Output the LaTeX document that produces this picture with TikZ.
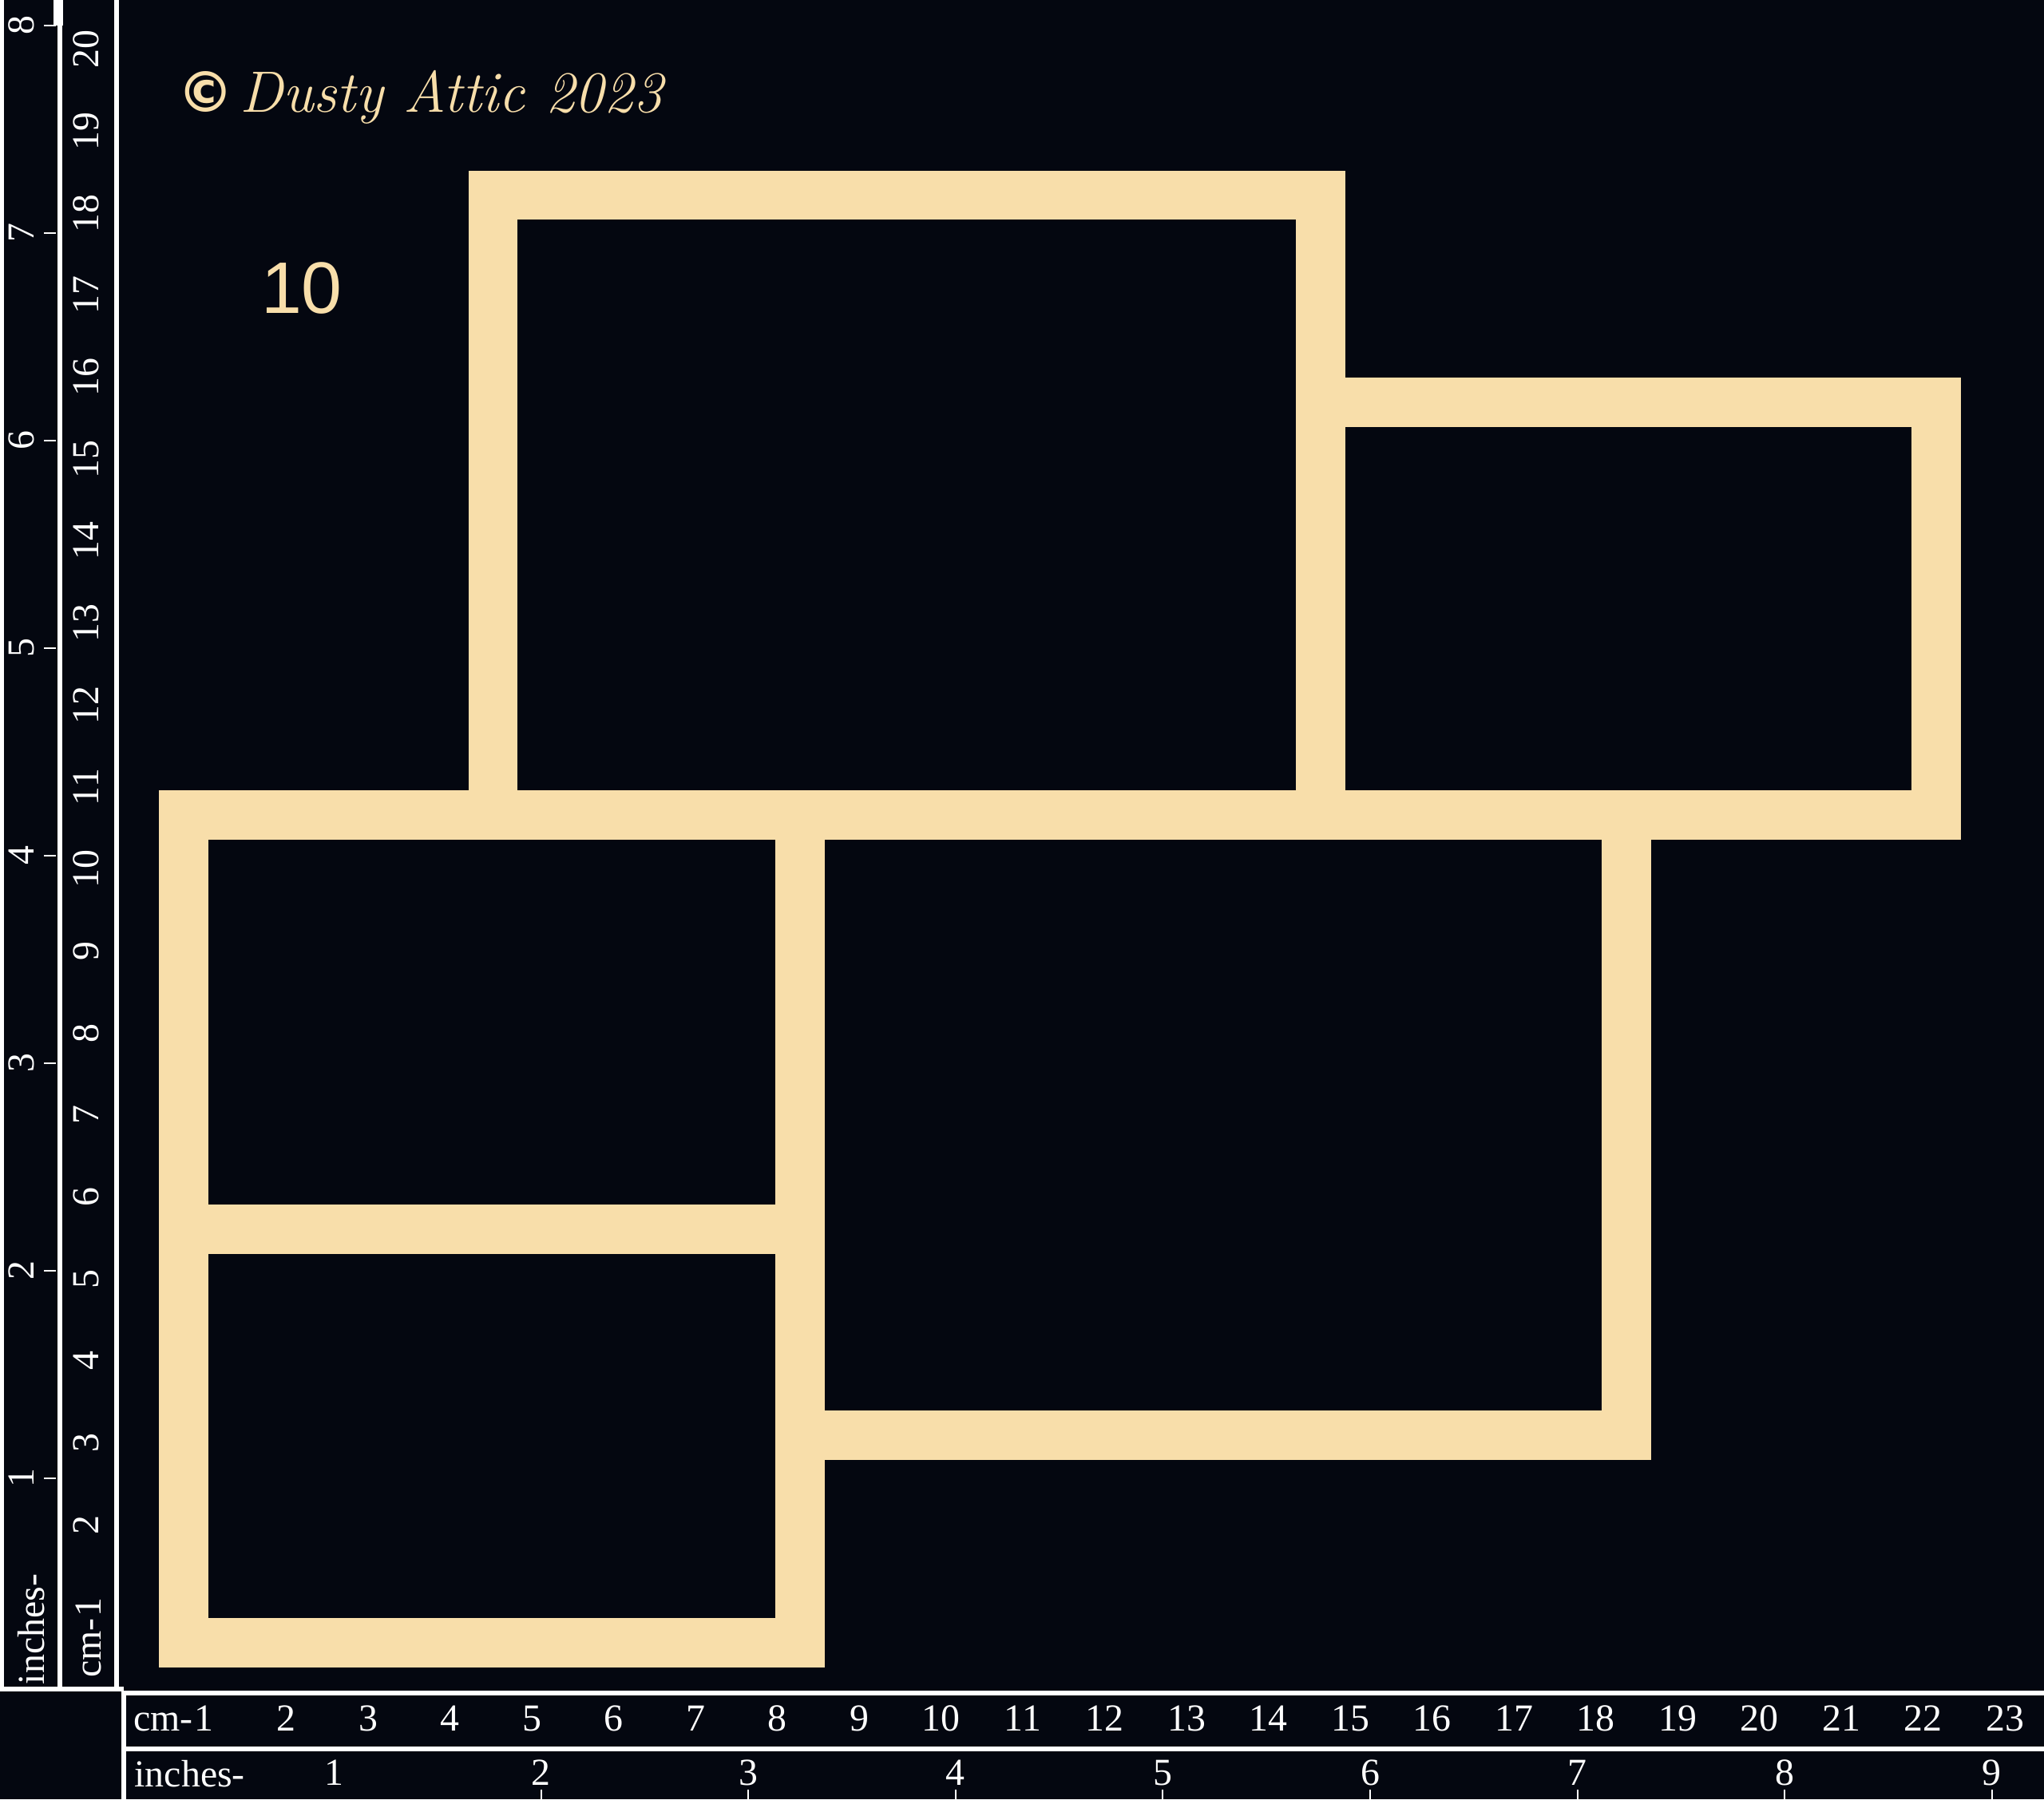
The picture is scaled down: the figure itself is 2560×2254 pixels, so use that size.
\documentclass[tikz,border=0pt]{standalone}
\usepackage{fontspec}
\newfontfamily\rulerfont{Liberation Serif}
\newfontfamily\numfont{Liberation Sans}
\newfontfamily\markfont{DejaVu Sans}
\definecolor{boardblack}{RGB}{4,7,16}
\definecolor{chipbeige}{RGB}{248,222,170}

\begin{document}
\begin{tikzpicture}[x=0.01cm, y=-0.01cm,
    outerpart/.style={fill=chipbeige},
    opening/.style={fill=boardblack},
    rulertext/.style={text=white, inner sep=0pt, font=\rulerfont\fontsize{13.6}{13.6}\selectfont},
    rulerline/.style={draw=white, line width=1.7pt},
    inchtick/.style={draw=white, line width=0.6pt}]
    \useasboundingbox (0,0) rectangle (2560,2254);
    \fill[boardblack] (0,0) rectangle (2560,2254);

    % chipboard frames
    \fill[outerpart] (587,214) rectangle (1685,1052);
    \fill[outerpart] (1623,473) rectangle (2456,1052);
    \fill[outerpart] (199,990) rectangle (1033,2089);
    \fill[outerpart] (971,990) rectangle (2068,1829);
    \fill[opening] (648,275) rectangle (1623,990);
    \fill[opening] (1685,535) rectangle (2394,990);
    \fill[opening] (261,1052) rectangle (971,1509);
    \fill[opening] (261,1571) rectangle (971,2027);
    \fill[opening] (1033,1052) rectangle (2006,1767);

    % marks
    \node[text=chipbeige, anchor=base west, inner sep=0pt] (copyright) at (222,140)
        {{\markfont\bfseries\fontsize{20}{20}\selectfont ©}\hspace{2pt}{\itshape\fontsize{20.8}{20.8}\selectfont Dusty Attic 2023}};
    \node[text=chipbeige, anchor=base, inner sep=0pt, font=\numfont\fontsize{26}{26}\selectfont] (partno) at (378,392) {10};

    % left ruler
    \draw[rulerline] (2,0) -- (2,2116);
    \draw[rulerline] (75,30) -- (75,2116);
    \draw[rulerline] (146,0) -- (146,2116);
    \draw[rulerline] (0,2116) -- (155,2116);
    \fill[white] (67,0) rectangle (79,32);
    \foreach \k in {1,...,8} {
        \node[rulertext, rotate=90, anchor=base] (vin\k) at (42,{1852-(\k-1)*260}) {\k};
        \draw[inchtick] (55,{1852-(\k-1)*260}) -- (70,{1852-(\k-1)*260});
    }
    \node[rulertext, rotate=90, anchor=base] (vin0) at (55,2041) {inches-};
    \foreach \k in {2,...,20}
        \node[rulertext, rotate=90, anchor=base] (vcm\k) at (123,{2013-(\k-1)*102.7}) {\k};
    \node[rulertext, rotate=90, anchor=base east] (vcm1) at (126,2001) {cm-\kern0.5pt1};

    % bottom ruler
    \draw[rulerline] (155,2121) -- (2560,2121);
    \draw[rulerline] (155,2191) -- (2560,2191);
    \draw[rulerline] (155,2118) -- (155,2254);
    \node[rulertext, anchor=base east] (hcm1) at (268,2168) {cm-\kern0.5pt1};
    \foreach \k in {2,...,23}
        \node[rulertext, anchor=base] (hcm\k) at ({256+(\k-1)*102.5},2168) {\k};
    \node[rulertext, anchor=base west] (hin0) at (168,2238) {inches-};
    \foreach \k in {1,...,9}
        \node[rulertext, anchor=base] (hin\k) at ({418+(\k-1)*259.6},2236) {\k};
    \foreach \k in {2,...,9}
        \draw[inchtick] ({418+(\k-1)*259.6},2242) -- ++(0,12);
\end{tikzpicture}
\end{document}
